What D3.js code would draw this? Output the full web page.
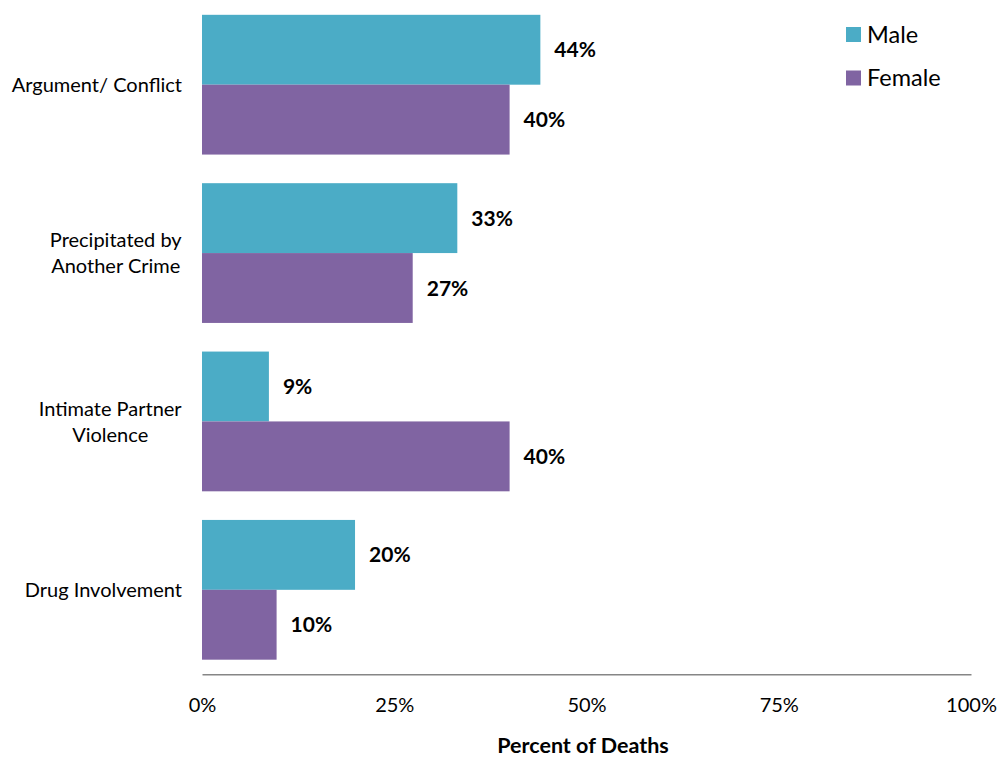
<!DOCTYPE html>
<html>
<head>
<meta charset="utf-8">
<script src="https://cdn.jsdelivr.net/npm/d3@7/dist/d3.min.js"></script>
<style>
  html, body { margin: 0; padding: 0; background: #fff; }
  svg { display: block; font-family: Lato, "Open Sans", sans-serif; }
</style>
</head>
<body>
<svg id="chart" width="1000" height="759"></svg>
<script>
const categories = [
  ["Argument/ Conflict"],
  ["Precipitated by", "Another Crime"],
  ["Intimate Partner", "Violence"],
  ["Drug Involvement"]
];
const categoryKeys = ["Argument/ Conflict", "Precipitated by Another Crime", "Intimate Partner Violence", "Drug Involvement"];
const seriesNames = ["Male", "Female"];
const maleValues = [44, 33.2, 8.7, 19.9];
const femaleValues = [40, 27.4, 40, 9.7];
const maleLabels = ["44%", "33%", "9%", "20%"];
const femaleLabels = ["40%", "27%", "40%", "10%"];
const tickValues = [0, 25, 50, 75, 100];
const tickLabels = ["0%", "25%", "50%", "75%", "100%"];
const colors = ["#4BACC6", "#8064A2"];
const axisTitle = "Percent of Deaths";

const svg = d3.select("#chart");

const x = d3.scaleLinear().domain([0, 100]).range([202, 971]);
const y = d3.scaleBand().domain(categoryKeys).range([0.5, 674]).paddingInner(0.17).paddingOuter(0.085);
const ySub = d3.scaleBand().domain(seriesNames).range([0, y.bandwidth()]);

const rows = categoryKeys.map((k, i) => ({
  key: k,
  lines: categories[i],
  values: [
    { s: "Male", v: maleValues[i], label: maleLabels[i] },
    { s: "Female", v: femaleValues[i], label: femaleLabels[i] }
  ]
}));

const groups = svg.selectAll("g.grp").data(rows).join("g")
  .attr("class", "grp")
  .attr("transform", d => `translate(0,${y(d.key)})`);

groups.selectAll("rect").data(d => d.values).join("rect")
  .attr("x", x(0))
  .attr("y", d => ySub(d.s))
  .attr("width", d => x(d.v) - x(0))
  .attr("height", ySub.bandwidth())
  .attr("fill", d => colors[seriesNames.indexOf(d.s)]);

groups.selectAll("text.val").data(d => d.values).join("text")
  .attr("class", "val")
  .attr("x", d => x(d.v) + 14)
  .attr("y", d => ySub(d.s) + ySub.bandwidth() / 2)
  .attr("dy", "0.36em")
  .attr("font-size", 21)
  .attr("font-weight", "bold")
  .attr("fill", "#000")
  .text(d => d.label);

// category labels
const catG = svg.append("g");
rows.forEach(r => {
  const cy = y(r.key) + y.bandwidth() / 2;
  const n = r.lines.length;
  const lh = 26;
  const t = catG.append("text")
    .attr("font-size", 20)
    .attr("fill", "#000")
    .attr("text-anchor", "middle");
  r.lines.forEach((ln, j) => {
    t.append("tspan")
      .attr("x", 0)
      .attr("y", cy + (j - (n - 1) / 2) * lh)
      .attr("dy", "0.36em")
      .text(ln);
  });
  const w = t.node().getBBox().width;
  t.attr("transform", `translate(${182 - w / 2},0)`);
});

// x axis
const axisG = svg.append("g").attr("transform", "translate(0,674.3)");
axisG.call(d3.axisBottom(x).tickValues(tickValues).tickSize(0).tickFormat((d, i) => tickLabels[i]));
axisG.select(".domain").attr("stroke", "#868686").attr("stroke-width", 1.6);
axisG.selectAll(".tick text")
  .attr("font-family", "Lato, 'Open Sans', sans-serif")
  .attr("font-size", 20)
  .attr("fill", "#000")
  .attr("y", 31)
  .attr("dy", "0.36em");

svg.append("text")
  .attr("x", 583)
  .attr("y", 745)
  .attr("dy", "0.36em")
  .attr("text-anchor", "middle")
  .attr("font-size", 21.5)
  .attr("font-weight", "bold")
  .attr("fill", "#000")
  .text(axisTitle);

// legend
const leg = svg.append("g");
seriesNames.forEach((s, i) => {
  const ly = 34.5 + i * 43.5;
  leg.append("rect")
    .attr("x", 846).attr("y", ly - 7.5)
    .attr("width", 15).attr("height", 15)
    .attr("fill", colors[i]);
  leg.append("text")
    .attr("x", 867)
    .attr("y", ly)
    .attr("dy", "0.36em")
    .attr("font-size", 23.5)
    .attr("fill", "#000")
    .text(s);
});
</script>
</body>
</html>
